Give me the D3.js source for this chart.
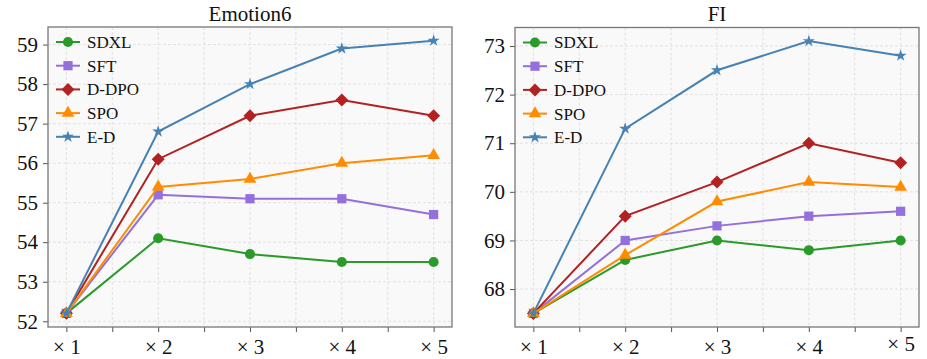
<!DOCTYPE html>
<html>
<head>
<meta charset="utf-8">
<script src="https://cdn.jsdelivr.net/npm/d3@7"></script>
<style>
  body { margin: 0; background: #fff; }
  svg { display: block; }
  svg text { font-family: 'Liberation Serif', 'Times New Roman', serif; }
</style>
</head>
<body>
<div id="chart"></div>
<script>
// data
const steps = ['× 1', '× 2', '× 3', '× 4', '× 5'];
const methods = ['SDXL', 'SFT', 'D-DPO', 'SPO', 'E-D'];
const methodColors = ['#2a9a2a', '#9370db', '#b22222', '#ff8c00', '#4682b4'];
const methodMarkers = ['circle', 'square', 'diamond', 'triangle', 'star'];

const emotion6Values = [
    [52.2, 54.1, 53.7, 53.5, 53.5],
    [52.2, 55.2, 55.1, 55.1, 54.7],
    [52.2, 56.1, 57.2, 57.6, 57.2],
    [52.2, 55.4, 55.6, 56.0, 56.2],
    [52.2, 56.8, 58.0, 58.9, 59.1]
];
const fiValues = [
    [67.5, 68.6, 69.0, 68.8, 69.0],
    [67.5, 69.0, 69.3, 69.5, 69.6],
    [67.5, 69.5, 70.2, 71.0, 70.6],
    [67.5, 68.7, 69.8, 70.2, 70.1],
    [67.5, 71.3, 72.5, 73.1, 72.8]
];
const emotion6Ticks = [52, 53, 54, 55, 56, 57, 58, 59];
const fiTicks = [68, 69, 70, 71, 72, 73];

const svgWidth = 927, svgHeight = 359;

const svg = d3.select('#chart').append('svg')
    .attr('width', svgWidth)
    .attr('height', svgHeight);

function markerPath(type) {
    if (type === 'circle') return d3.symbol(d3.symbolCircle, 80)();
    if (type === 'square') return d3.symbol(d3.symbolSquare, 85)();
    if (type === 'triangle') return d3.symbol(d3.symbolTriangle, 70)();
    if (type === 'star') return d3.symbol(d3.symbolStar, 45)();
    const r = 6.5; // diamond, rotated square
    return `M0,${-r}L${r},0L0,${r}L${-r},0Z`;
}

function drawPanel(opts) {
    const { left, right, top, bottom, title, values, ticks } = opts;
    const g = svg.append('g');

    // matplotlib-style 5% margins
    const allVals = values.flat();
    const lo = d3.min(allVals), hi = d3.max(allVals);
    const pad = (hi - lo) * 0.05;
    const y = d3.scaleLinear().domain([lo - pad, hi + pad]).range([bottom, top]);
    const x = d3.scaleLinear().domain([-0.2, steps.length - 1 + 0.2]).range([left, right]);

    // background
    g.append('rect')
        .attr('x', left).attr('y', top)
        .attr('width', right - left).attr('height', bottom - top)
        .attr('fill', '#f9f9f9');

    // grid
    const xGrid = d3.range(0, steps.length - 0.5, 0.5);
    g.selectAll('.vgrid').data(xGrid).enter().append('line')
        .attr('class', 'vgrid')
        .attr('x1', d => x(d)).attr('x2', d => x(d))
        .attr('y1', top).attr('y2', bottom)
        .attr('stroke', '#dcdcdc').attr('stroke-width', 0.8)
        .attr('stroke-dasharray', '3,2');
    g.selectAll('.hgrid').data(ticks).enter().append('line')
        .attr('class', 'hgrid')
        .attr('x1', left).attr('x2', right)
        .attr('y1', d => y(d)).attr('y2', d => y(d))
        .attr('stroke', '#dcdcdc').attr('stroke-width', 0.8)
        .attr('stroke-dasharray', '3,2');

    // y axis
    const yAxis = d3.axisLeft(y).tickValues(ticks).tickFormat(d3.format('d')).tickSize(5).tickPadding(5);
    const yG = g.append('g').attr('transform', `translate(${left},0)`).call(yAxis);
    yG.select('.domain').remove();
    yG.selectAll('.tick line').attr('stroke', '#555').attr('stroke-width', 1);
    yG.selectAll('text').attr('font-size', 21).attr('fill', '#111');

    // x axis: ticks every 0.5, labels on integers
    const xAxis = d3.axisBottom(x).tickValues(xGrid).tickSize(5).tickPadding(7)
        .tickFormat(d => Number.isInteger(d) ? steps[d] : '');
    const xG = g.append('g').attr('transform', `translate(0,${bottom})`).call(xAxis);
    xG.select('.domain').remove();
    xG.selectAll('.tick line').attr('stroke', '#555').attr('stroke-width', 1);
    xG.selectAll('text').attr('font-size', 21).attr('fill', '#111');
    if (opts.liftLast) {
        xG.selectAll('text').filter(d => d === steps.length - 1).attr('dy', '0.55em');
    }

    // frame
    g.append('rect')
        .attr('x', left).attr('y', top)
        .attr('width', right - left).attr('height', bottom - top)
        .attr('fill', 'none').attr('stroke', '#777').attr('stroke-width', 1.3);

    // title
    g.append('text')
        .attr('x', (left + right) / 2).attr('y', 21)
        .attr('text-anchor', 'middle')
        .attr('font-size', 21)
        .attr('fill', '#111')
        .text(title);

    // series
    const line = d3.line().x((d, i) => x(i)).y(d => y(d));
    methods.forEach((m, k) => {
        const s = g.append('g').attr('class', 'series');
        s.append('path')
            .datum(values[k])
            .attr('d', line)
            .attr('fill', 'none')
            .attr('stroke', methodColors[k])
            .attr('stroke-width', 2);
        s.selectAll('.marker').data(values[k]).enter().append('path')
            .attr('class', 'marker')
            .attr('transform', (d, i) => `translate(${x(i)},${y(d)})`)
            .attr('d', markerPath(methodMarkers[k]))
            .attr('fill', methodColors[k]);
    });

    // legend
    const lg = g.append('g').attr('transform', `translate(${left + 8},${top + 15})`);
    methods.forEach((m, k) => {
        const row = lg.append('g').attr('transform', `translate(0,${k * 23.7})`);
        row.append('line')
            .attr('x1', 0).attr('x2', 24)
            .attr('stroke', methodColors[k]).attr('stroke-width', 2);
        row.append('path')
            .attr('transform', 'translate(12,0)')
            .attr('d', markerPath(methodMarkers[k]))
            .attr('fill', methodColors[k]);
        row.append('text')
            .attr('x', 31).attr('y', 0)
            .attr('dy', '0.35em')
            .attr('font-size', 17)
            .attr('fill', '#111')
            .text(m);
    });
}

drawPanel({ left: 48, right: 452, top: 27, bottom: 327, title: 'Emotion6', values: emotion6Values, ticks: emotion6Ticks });
drawPanel({ left: 515, right: 919, top: 27.5, bottom: 327, title: 'FI', values: fiValues, ticks: fiTicks, liftLast: true });
</script>
</body>
</html>
